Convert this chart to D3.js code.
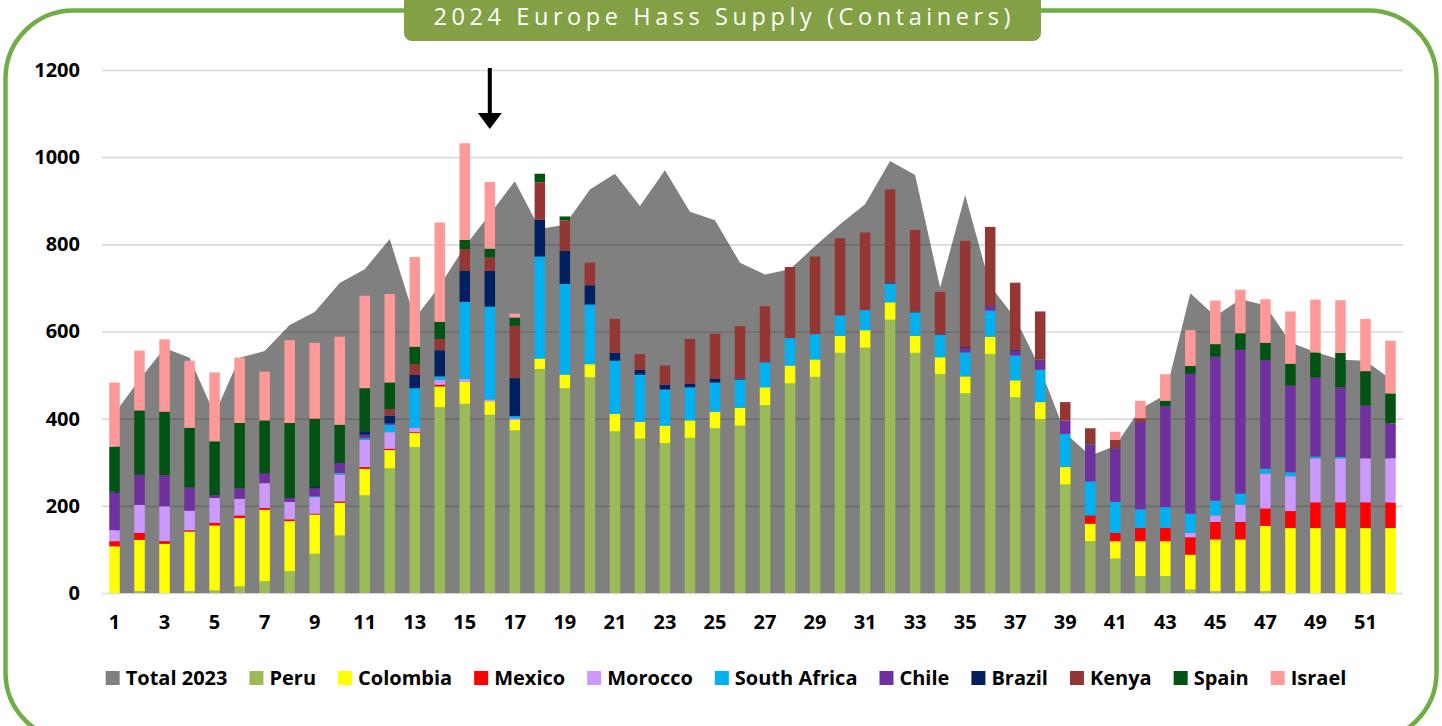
<!DOCTYPE html>
<html>
<head>
<meta charset="utf-8">
<script src="https://cdn.jsdelivr.net/npm/d3@7"></script>
<style>
  html, body { margin: 0; padding: 0; background: #fff; }
  svg { display: block; }
  text { font-family: "Open Sans", "DejaVu Sans", sans-serif; }
</style>
</head>
<body>
<div id="chart"></div>
<script>
////////////////////////////////////////////////////////
// 2024 Europe Hass supply, weekly containers by origin
// stacked columns + 2023 total as grey area behind

const weeks = d3.range(1, 53);
const xTickWeeks = weeks.filter(w => w % 2 === 1);
const yTicks = [0, 200, 400, 600, 800, 1000, 1200];

const titleText = "2024 Europe Hass Supply (Containers)";

const total2023 = [412,490,562,540,410,540,555,615,645,711,743,812,630,705,795,869,945,835,845,926,
	962,888,970,875,855,758,731,743,796,846,892,991,959,701,913,705,631,515,367,315,
	338,422,455,688,635,674,660,575,553,535,533,491];

const peru = [0,4,0,4,6,15,27,50,90,132,224,286,335,426,434,409,373,514,470,495,
	371,354,344,356,378,384,431,481,496,551,563,627,551,502,458,548,449,399,249,119,
	79,39,39,8,4,4,4,0,0,0,0,0];
const colombia = [107,118,113,137,149,157,164,115,90,75,61,42,32,48,51,31,24,24,31,30,
	40,39,40,40,38,41,41,41,40,39,40,40,39,39,39,40,39,39,40,40,
	40,80,80,80,119,119,150,149,149,149,149,149];
const mexico = [12,16,6,3,6,6,4,4,2,3,4,3,2,4,0,0,0,0,0,0,
	0,0,0,0,0,0,0,0,0,0,0,0,0,0,0,0,0,0,0,19,
	19,30,30,40,40,40,40,39,59,59,59,59];
const morocco = [25,64,80,45,57,38,57,40,38,62,62,38,10,11,6,4,4,0,0,0,
	0,0,0,0,0,0,0,0,0,0,0,0,0,0,0,0,0,0,0,0,
	0,0,0,10,15,40,80,80,101,101,101,101];
const southAfrica = [0,0,0,0,0,0,0,0,2,3,4,17,91,8,177,213,5,234,208,137,
	122,108,83,76,67,65,57,63,58,47,46,43,54,51,55,60,57,74,76,78,
	71,43,48,44,34,25,11,9,4,3,0,0];
const chile = [86,69,71,53,6,24,22,9,18,23,8,3,0,0,0,0,0,0,0,0,
	0,0,0,0,0,0,0,0,0,0,0,0,0,0,10,10,10,21,31,82,
	121,200,231,321,330,330,249,199,181,160,121,80];
const brazil = [2,0,0,0,0,0,0,0,3,0,8,18,31,60,71,82,87,84,76,44,
	18,11,11,8,8,2,0,0,0,0,0,2,1,1,2,1,2,2,0,3,
	1,0,0,0,0,0,0,0,0,0,0,0];
const kenya = [0,0,0,0,0,0,0,0,0,0,0,15,24,26,50,31,120,86,70,52,
	78,36,44,103,104,120,129,163,178,177,178,214,188,98,244,181,155,111,42,37,
	20,9,0,0,0,0,0,0,0,0,0,0];
const spain = [104,148,146,137,124,150,122,172,157,88,99,61,40,39,21,20,19,20,9,0,
	0,0,0,0,0,0,0,0,0,0,0,0,0,0,0,0,0,0,0,0,
	0,0,13,18,29,38,40,50,58,79,79,69];
const israel = [147,137,166,154,158,150,112,190,174,202,212,203,206,228,222,153,9,0,0,0,
	0,0,0,0,0,0,0,0,0,0,0,0,0,0,0,0,0,0,0,0,
	19,40,61,82,100,100,100,120,121,121,120,121];

const seriesNames = ["Peru","Colombia","Mexico","Morocco","South Africa","Chile","Brazil","Kenya","Spain","Israel"];
const seriesValues = [peru, colombia, mexico, morocco, southAfrica, chile, brazil, kenya, spain, israel];
const seriesColors = ["#9BBB59","#FFFF00","#FF0000","#CC99FF","#00B0F0","#7030A0","#002060","#943634","#005312","#FF9999"];
const totalColor = "#808080";

const W = 1442, H = 726;
const plot = { left: 102, right: 1403, top: 70, bottom: 593 };

const svg = d3.select("#chart").append("svg")
	.attr("width", W)
	.attr("height", H)
	.attr("viewBox", `0 0 ${W} ${H}`);

// outer rounded frame (runs off the bottom of the page)
svg.append("rect")
	.attr("x", 5.5).attr("y", 10.5)
	.attr("width", 1431).attr("height", 730)
	.attr("rx", 68).attr("ry", 68)
	.attr("fill", "none")
	.attr("stroke", "#70AD47")
	.attr("stroke-width", 4.5);

// title tab
svg.append("rect")
	.attr("x", 404).attr("y", -20)
	.attr("width", 637).attr("height", 61)
	.attr("rx", 8).attr("ry", 8)
	.attr("fill", "#84A045");

svg.append("text")
	.attr("x", 722).attr("y", 25)
	.attr("text-anchor", "middle")
	.attr("fill", "#fff")
	.attr("font-size", 23.5)
	.attr("textLength", 577)
	.attr("lengthAdjust", "spacing")
	.text(titleText);

// scales
const x = d3.scaleBand()
	.domain(weeks)
	.range([plot.left, plot.right])
	.paddingInner(0.58)
	.paddingOuter(0.29);

const y = d3.scaleLinear()
	.domain([0, 1200])
	.range([plot.bottom, plot.top]);

const cx = w => x(w) + x.bandwidth() / 2;

// 2023 total area, points at category centres
const area = d3.area()
	.x((d, i) => cx(weeks[i]))
	.y0(y(0))
	.y1(d => y(d));

svg.append("path")
	.datum(total2023)
	.attr("fill", totalColor)
	.attr("d", area);

// y gridlines + labels (translucent lines so they darken over the area)
const yAxis = svg.append("g")
	.attr("class", "yaxis")
	.attr("transform", `translate(${plot.left},0)`)
	.call(d3.axisLeft(y).tickValues(yTicks).tickFormat(d3.format("d"))
		.tickSize(-(plot.right - plot.left)).tickPadding(22));

yAxis.select(".domain").remove();
yAxis.selectAll(".tick line")
	.attr("stroke", "rgba(0,0,0,0.15)")
	.attr("stroke-width", 1.6);
yAxis.selectAll(".tick text")
	.attr("fill", "#000")
	.attr("font-size", 20)
	.attr("font-weight", 700)
	.style("font-family", '"Open Sans", sans-serif');

// stacked bars
const table = weeks.map((w, i) => {
	let row = { week: w };
	seriesNames.forEach((name, k) => { row[name] = seriesValues[k][i]; });
	return row;
});

const stacked = d3.stack().keys(seriesNames)(table);

svg.append("g")
	.selectAll("g")
	.data(stacked)
	.join("g")
		.attr("fill", (d, i) => seriesColors[i])
	.selectAll("rect")
	.data(d => d.filter(s => s[1] - s[0] > 0))
	.join("rect")
		.attr("x", d => x(d.data.week))
		.attr("y", d => y(d[1]))
		.attr("width", x.bandwidth())
		.attr("height", d => y(d[0]) - y(d[1]));

// x labels (odd weeks only)
const xAxis = svg.append("g")
	.attr("class", "xaxis")
	.attr("transform", `translate(0,${plot.bottom})`)
	.call(d3.axisBottom(x).tickValues(xTickWeeks).tickSize(0).tickPadding(22));

xAxis.select(".domain").remove();
xAxis.selectAll(".tick text")
	.attr("fill", "#000")
	.attr("font-size", 20)
	.attr("font-weight", 700)
	.style("font-family", '"Open Sans", sans-serif');

// arrow marking week 16
const ax = cx(16);
svg.append("rect")
	.attr("x", ax - 2).attr("y", 68)
	.attr("width", 4).attr("height", 48)
	.attr("fill", "#000");
svg.append("path")
	.attr("d", `M${ax - 12},113 L${ax + 12},113 L${ax},129 Z`)
	.attr("fill", "#000");

// legend, centred under the plot
const legendItems = [{ name: "Total 2023", color: totalColor }]
	.concat(seriesNames.map((n, i) => ({ name: n, color: seriesColors[i] })));

const legend = svg.append("g").attr("class", "legend");
let lx = 0;
legendItems.forEach(item => {
	let g = legend.append("g").attr("transform", `translate(${lx},0)`);
	g.append("rect")
		.attr("x", 0).attr("y", -7)
		.attr("width", 14).attr("height", 14)
		.attr("fill", item.color);
	let t = g.append("text")
		.attr("x", 20).attr("y", 7)
		.attr("font-size", 20)
		.attr("font-weight", 700)
		.attr("fill", "#000")
		.text(item.name);
	lx += 20 + t.node().getComputedTextLength() + 22;
});
const legendWidth = lx - 22;
legend.attr("transform", `translate(${726 - legendWidth / 2},678)`);
</script>
</body>
</html>
